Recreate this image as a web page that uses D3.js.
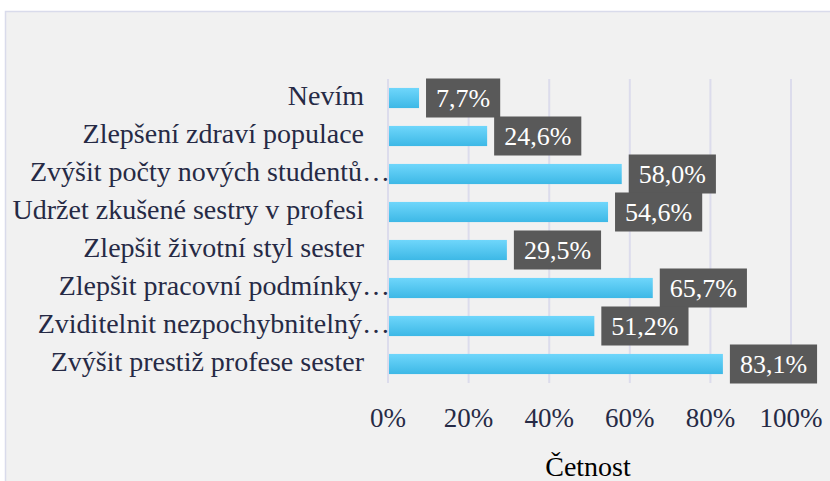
<!DOCTYPE html>
<html><head><meta charset="utf-8">
<script src="https://cdn.jsdelivr.net/npm/d3@7"></script>
<style>body{margin:0;background:#fff}svg{display:block}</style>
</head><body>
<script>
const categories = ["Nevím","Zlepšení zdraví populace","Zvýšit počty nových studentů…","Udržet zkušené sestry v profesi","Zlepšit životní styl sester","Zlepšit pracovní podmínky…","Zviditelnit nezpochybnitelný…","Zvýšit prestiž profese sester"];
const values = [7.7,24.6,58.0,54.6,29.5,65.7,51.2,83.1];
const valueLabels = ["7,7%","24,6%","58,0%","54,6%","29,5%","65,7%","51,2%","83,1%"];
const ticks = [0,20,40,60,80,100];
const axisTitle = "Četnost";

const W=830,H=481;
const svg=d3.select("body").append("svg").attr("width",W).attr("height",H);
const defs=svg.append("defs");
const g=defs.append("linearGradient").attr("id","bg").attr("x1",0).attr("y1",0).attr("x2",0).attr("y2",1);
g.append("stop").attr("offset","0%").attr("stop-color","#6fd6fb");
g.append("stop").attr("offset","100%").attr("stop-color","#3db8e6");

svg.append("rect").attr("x",5.5).attr("y",11.5).attr("width",840).attr("height",490).attr("fill","#f1f1f1").attr("stroke","#d9dbeb").attr("stroke-width",1.5);

const x=d3.scaleLinear().domain([0,100]).range([388,791]);
const y=d3.scaleBand().domain(categories).range([79,383]).paddingInner(0.47).paddingOuter(0.235);
const font="Liberation Serif";

// gridlines
svg.append("g").selectAll("line").data(ticks).join("line")
 .attr("x1",d=>x(d)).attr("x2",d=>x(d)).attr("y1",79).attr("y2",383)
 .attr("stroke","#dcdcec").attr("stroke-width",2);

// bars
svg.append("g").selectAll("rect").data(values).join("rect")
 .attr("x",x(0)+1).attr("y",(d,i)=>y(categories[i]))
 .attr("width",d=>x(d)-x(0)-1).attr("height",y.bandwidth())
 .attr("fill","url(#bg)");

// category labels
svg.append("g").selectAll("text").data(categories).join("text")
 .attr("x",d=>d.endsWith("…")?390:364).attr("y",d=>y(d)+y.bandwidth()/2)
 .attr("dy","0.26em").attr("text-anchor","end")
 .style("font-family",font).style("font-size","28px").attr("fill","#262a45").text(d=>d);

// value labels
const lg=svg.append("g");
values.forEach((v,i)=>{
  const cy=y(categories[i])+y.bandwidth()/2;
  const t=lg.append("text").attr("x",0).attr("y",cy).attr("dy","0.34em")
   .style("font-family",font).style("font-size","26px").attr("fill","#ffffff").text(valueLabels[i]);
  const w=t.node().getComputedTextLength();
  const bx=x(v)+7;
  lg.insert("rect","text").attr("x",bx).attr("y",cy-19.5).attr("width",w+20).attr("height",39).attr("fill","#595959");
  t.attr("x",bx+10);
});
lg.selectAll("text").raise();

// tick labels
svg.append("g").selectAll("text").data(ticks).join("text")
 .attr("x",d=>x(d)).attr("y",427).attr("text-anchor","middle")
 .style("font-family",font).style("font-size","27px").attr("fill","#262a45").text(d=>d+"%");

svg.append("text").attr("x",588).attr("y",476).attr("text-anchor","middle")
 .style("font-family",font).style("font-size","28px").attr("fill","#000").text(axisTitle);
</script>
</body></html>
